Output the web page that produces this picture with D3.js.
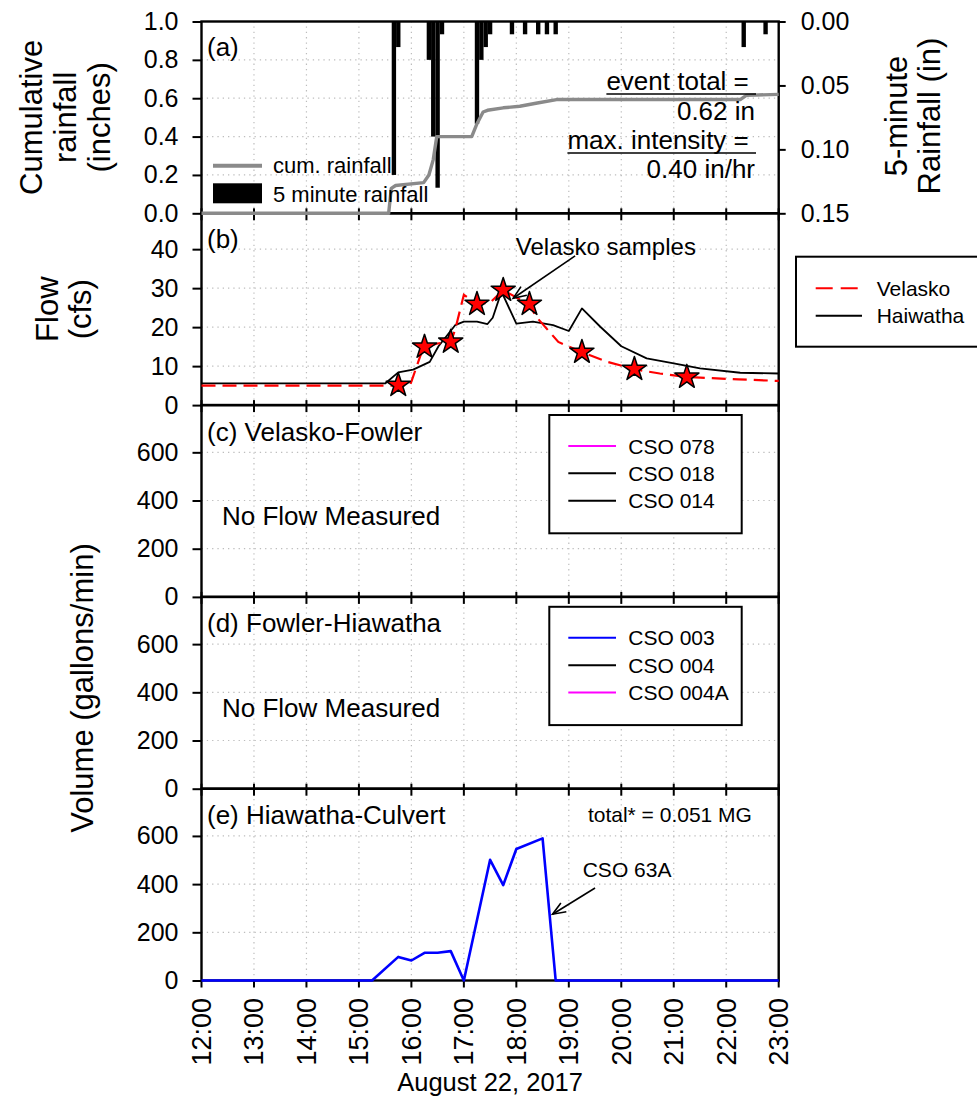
<!DOCTYPE html>
<html>
<head>
<meta charset="utf-8">
<script src="https://cdn.jsdelivr.net/npm/d3@7"></script>
<style>
  html, body { margin: 0; padding: 0; background: #fff; }
  svg { display: block; }
</style>
</head>
<body>
<svg id="chart" width="977" height="1099"></svg>
<script>
// ---------- data ----------
const hourLabels = ["12:00","13:00","14:00","15:00","16:00","17:00","18:00","19:00","20:00","21:00","22:00","23:00"];

// (a) 5-minute rainfall depths (in) and cumulative rainfall (in)
const rain5min = [
  ["15:40",0.12],["15:45",0.02],
  ["16:20",0.03],["16:25",0.09],["16:30",0.13],["16:35",0.01],
  ["17:15",0.08],["17:20",0.03],["17:25",0.02],["17:30",0.01],
  ["17:55",0.01],["18:10",0.01],["18:25",0.01],["18:35",0.01],["18:45",0.01],
  ["22:20",0.02],["22:45",0.01]
];
const cumRain = [
  ["12:00",0],["15:34",0],["15:37",0.13],["15:42",0.145],["16:14",0.16],["16:20",0.2],
  ["16:25",0.28],["16:29",0.40],["17:09",0.40],["17:15",0.467],["17:22",0.528],["17:27",0.537],
  ["17:45",0.55],["18:04",0.558],["18:24",0.575],["18:46",0.593],["22:16",0.593],["22:23",0.615],["23:00",0.62]
];

// (b) flow (cfs)
const velaskoFlow = [
  ["12:00",5.0],["15:58",5.0],["16:00",6.0],["16:10",12.5],["16:15",14.9],["16:30",15.8],["16:45",16.2],
  ["16:50",19.3],["17:00",28.3],["17:15",25.9],["17:30",26.3],["17:45",29.5],["18:15",25.7],["18:23",22.6],
  ["18:48",16.2],["19:15",13.6],["19:44",11.1],["20:15",9.2],["20:44",8.1],["21:15",7.2],["21:44",6.9],
  ["22:14",6.6],["23:00",6.2]
];
const haiwathaFlow = [
  ["12:00",5.55],["15:30",5.55],["15:45",8.4],["16:02",9.1],["16:21",11.1],["16:31",15.1],["16:50",20.5],
  ["17:00",21.4],["17:15",21.4],["17:27",20.8],["17:33",22.4],["17:43",29.1],["18:00",20.9],["18:19",21.4],
  ["18:42",20.5],["19:00",19.0],["19:15",24.8],["19:36",20.1],["20:00",15.1],["20:29",12.0],["21:00",10.7],
  ["21:30",9.4],["22:16",8.3],["23:00",8.1]
];
const velaskoSamples = [
  ["15:45",5.1],["16:15",14.9],["16:45",16.2],["17:15",25.9],["17:45",29.5],
  ["18:15",25.9],["19:15",13.6],["20:15",9.2],["21:15",7.2]
];

// (e) CSO 63A discharge (gallons/min)
const cso63A = [
  ["12:00",0],["15:15",0],["15:45",98],["16:00",83],["16:15",115],["16:30",115],["16:45",122],
  ["17:00",0],["17:30",501],["17:45",396],["18:00",546],["18:30",590],["18:45",0],["23:00",0]
];

const cumTicks = [0, 0.2, 0.4, 0.6, 0.8, 1.0];
const rainTicks = [0, 0.05, 0.10, 0.15];
const flowTicks = [0, 10, 20, 30, 40];
const volTicks = [0, 200, 400, 600];

// ---------- layout ----------
const FONT = '"Liberation Sans", Arial, Helvetica, sans-serif';
const plotL = 201.5, plotR = 778.7, plotT = 21.5, ph = 191.8;
const pTop = i => plotT + i * ph;
const toH = s => { const [h, m] = s.split(":").map(Number); return h + m / 60; };

const svg = d3.select("#chart").attr("font-family", FONT);

const x = d3.scaleLinear().domain([12, 23]).range([plotL, plotR]);
const yCum = d3.scaleLinear().domain([0, 1]).range([pTop(1), pTop(0)]);
const yRain = d3.scaleLinear().domain([0, 0.15]).range([pTop(0), pTop(1)]);
const yFlow = d3.scaleLinear().domain([0, 49.2]).range([pTop(2), pTop(1)]);
const yC = d3.scaleLinear().domain([0, 796]).range([pTop(3), pTop(2)]);
const yD = d3.scaleLinear().domain([0, 796]).range([pTop(4), pTop(3)]);
const yE = d3.scaleLinear().domain([0, 796]).range([pTop(5), pTop(4)]);

const hours = hourLabels.map(toH);

// ---------- dotted grid ----------
const gridG = svg.append("g").attr("stroke", "#bdbdbd").attr("stroke-width", 1.2).attr("stroke-dasharray", "1.3,4");
function grid(y, vals) {
  const [y0, y1] = y.range();
  gridG.append("g").selectAll("line").data(hours.slice(1, -1)).join("line")
    .attr("x1", d => x(d)).attr("x2", d => x(d)).attr("y1", y0).attr("y2", y1);
  gridG.append("g").selectAll("line").data(vals.filter(v => v > 0)).join("line")
    .attr("x1", plotL).attr("x2", plotR).attr("y1", d => y(d)).attr("y2", d => y(d));
}
grid(yCum, cumTicks.filter(v => v < 1));
grid(yFlow, flowTicks);
grid(yC, volTicks);
grid(yD, volTicks);
grid(yE, volTicks);

// ---------- panel frames ----------
for (let i = 0; i < 5; i++) {
  svg.append("rect").attr("x", plotL).attr("y", pTop(i)).attr("width", plotR - plotL).attr("height", ph)
    .attr("fill", "none").attr("stroke", "#000").attr("stroke-width", 2.4);
}

// hour ticks on every panel boundary
const tickG = svg.append("g").attr("stroke", "#000").attr("stroke-width", 2);
for (let i = 1; i <= 5; i++) {
  const yb = pTop(i);
  tickG.append("g").selectAll("line").data(hours).join("line")
    .attr("x1", d => x(d)).attr("x2", d => x(d))
    .attr("y1", i === 5 ? yb : yb - 5).attr("y2", yb + 7);
}

// ---------- y axes ----------
function leftAxis(y, vals, fmt) {
  const g = svg.append("g").attr("transform", `translate(${plotL},0)`)
    .call(d3.axisLeft(y).tickValues(vals).tickFormat(fmt).tickSize(9).tickPadding(14));
  g.select(".domain").remove();
  g.selectAll(".tick line").attr("stroke", "#000").attr("stroke-width", 2);
  g.selectAll(".tick text").attr("font-size", 25).attr("font-family", FONT).attr("fill", "#000");
}
leftAxis(yCum, cumTicks, d3.format(".1f"));
leftAxis(yFlow, flowTicks, d3.format("d"));
leftAxis(yC, volTicks, d3.format("d"));
leftAxis(yD, volTicks, d3.format("d"));
leftAxis(yE, volTicks, d3.format("d"));

const rAxis = svg.append("g").attr("transform", `translate(${plotR},0)`)
  .call(d3.axisRight(yRain).tickValues(rainTicks).tickFormat(d3.format(".2f")).tickSize(7).tickPadding(15));
rAxis.select(".domain").remove();
rAxis.selectAll(".tick line").attr("stroke", "#000").attr("stroke-width", 2);
rAxis.selectAll(".tick text").attr("font-size", 25).attr("font-family", FONT).attr("fill", "#000");

// x tick labels (rotated)
svg.append("g").selectAll("text").data(hourLabels).join("text")
  .attr("transform", d => `translate(${x(toH(d))},998) rotate(-90)`)
  .attr("text-anchor", "end").attr("dy", "0.35em").attr("font-size", 27).text(d => d);

svg.append("text").attr("x", (plotL + plotR) / 2).attr("y", 1091).attr("text-anchor", "middle")
  .attr("font-size", 25.5).text("August 22, 2017");

// axis titles
function title(lines, cx, cy, gap, size) {
  const t = svg.append("text").attr("transform", `translate(${cx},${cy}) rotate(-90)`)
    .attr("text-anchor", "middle").attr("font-size", size);
  lines.forEach((s, i) => t.append("tspan").attr("x", 0).attr("dy", i === 0 ? 0 : gap).text(s));
}
title(["Cumulative", "rainfall", "(inches)"], 42, (pTop(0) + pTop(1)) / 2, 34, 31);
title(["Flow", "(cfs)"], 58, (pTop(1) + pTop(2)) / 2, 33, 31);
title(["Volume (gallons/min)"], 92.5, 688, 0, 31);
title(["5-minute", "Rainfall (in)"], 907, 116, 33, 31);

// ---------- panel (a) ----------
const barW = x(toH("12:05")) - x(12);
svg.append("g").selectAll("rect").data(rain5min).join("rect")
  .attr("x", d => x(toH(d[0])) - barW / 2).attr("width", barW)
  .attr("y", yRain(0)).attr("height", d => yRain(d[1]) - yRain(0))
  .attr("fill", "#000");

const line = (y) => d3.line().x(d => x(toH(d[0]))).y(d => y(d[1]));
svg.append("path").datum(cumRain).attr("d", line(yCum))
  .attr("fill", "none").attr("stroke", "#8a8a8a").attr("stroke-width", 3.4).attr("stroke-linejoin", "round");

svg.append("text").attr("x", 207).attr("y", pTop(0) + 34.5).attr("font-size", 26).text("(a)");

// rainfall legend
svg.append("line").attr("x1", 213).attr("x2", 262).attr("y1", 165.7).attr("y2", 165.7)
  .attr("stroke", "#8a8a8a").attr("stroke-width", 4);
svg.append("text").attr("x", 273).attr("y", 172.7).attr("font-size", 22).text("cum. rainfall");
svg.append("rect").attr("x", 213).attr("y", 183.3).attr("width", 49).attr("height", 20).attr("fill", "#000");
svg.append("text").attr("x", 273).attr("y", 201.5).attr("font-size", 22).text("5 minute rainfall");

// event summary, underlined headings
function underlined(txt, xEnd, yBase) {
  const t = svg.append("text").attr("x", xEnd).attr("y", yBase).attr("text-anchor", "end")
    .attr("font-size", 26).style("white-space", "pre").text(txt + " ");
  const b = t.node().getBBox();
  svg.append("line").attr("x1", b.x).attr("x2", b.x + b.width).attr("y1", yBase + 4).attr("y2", yBase + 4)
    .attr("stroke", "#000").attr("stroke-width", 1.6);
}
underlined("event total =", 756, 90);
svg.append("text").attr("x", 755).attr("y", 120).attr("text-anchor", "end").attr("font-size", 26).text("0.62 in");
underlined("max. intensity =", 756, 149);
svg.append("text").attr("x", 755).attr("y", 178.3).attr("text-anchor", "end").attr("font-size", 26).text("0.40 in/hr");

// ---------- panel (b) ----------
svg.append("path").datum(haiwathaFlow).attr("d", line(yFlow))
  .attr("fill", "none").attr("stroke", "#000").attr("stroke-width", 1.8).attr("stroke-linejoin", "round");
svg.append("path").datum(velaskoFlow).attr("d", line(yFlow))
  .attr("fill", "none").attr("stroke", "#ff0000").attr("stroke-width", 2.2).attr("stroke-dasharray", "14,7");
svg.append("g").selectAll("path").data(velaskoSamples).join("path")
  .attr("transform", d => `translate(${x(toH(d[0]))},${yFlow(d[1])})`)
  .attr("d", d3.symbol().type(d3.symbolStar).size(180)())
  .attr("fill", "#ff0000").attr("stroke", "#000").attr("stroke-width", 1.5).attr("stroke-linejoin", "round");

svg.append("text").attr("x", 207).attr("y", pTop(1) + 35).attr("font-size", 26).text("(b)");

function arrow(x1, y1, x2, y2) {
  const g = svg.append("g").attr("stroke", "#000").attr("stroke-width", 1.6).attr("fill", "none");
  g.append("line").attr("x1", x1).attr("y1", y1).attr("x2", x2).attr("y2", y2);
  const a = Math.atan2(y1 - y2, x1 - x2), L = 14, s = 0.38;
  g.append("path").attr("d",
    `M${x2 + L * Math.cos(a + s)},${y2 + L * Math.sin(a + s)}L${x2},${y2}L${x2 + L * Math.cos(a - s)},${y2 + L * Math.sin(a - s)}`);
}
svg.append("text").attr("x", x(17.99)).attr("y", yFlow(38.5)).attr("font-size", 24).text("Velasko samples");
arrow(x(19.12), yFlow(38.3), x(17.94), yFlow(27.4));

// flow legend
svg.append("rect").attr("x", 796).attr("y", 256.7).attr("width", 210).attr("height", 90)
  .attr("fill", "#fff").attr("stroke", "#000").attr("stroke-width", 2);
svg.append("line").attr("x1", 815.7).attr("x2", 858).attr("y1", 288.3).attr("y2", 288.3)
  .attr("stroke", "#ff0000").attr("stroke-width", 2).attr("stroke-dasharray", "17,8");
svg.append("text").attr("x", 876.7).attr("y", 295.8).attr("font-size", 21).text("Velasko");
svg.append("line").attr("x1", 815.7).attr("x2", 862).attr("y1", 315.7).attr("y2", 315.7)
  .attr("stroke", "#000").attr("stroke-width", 2);
svg.append("text").attr("x", 876.7).attr("y", 323.2).attr("font-size", 21).text("Haiwatha");

// ---------- panels (c) and (d) ----------
function noFlowPanel(i, label, entries) {
  const t0 = pTop(i);
  svg.append("text").attr("x", 207).attr("y", t0 + 35.5).attr("font-size", 26).text(label);
  svg.append("text").attr("x", 222).attr("y", t0 + 120).attr("font-size", 26).text("No Flow Measured");
  svg.append("rect").attr("x", 549.3).attr("y", t0 + 9.9).attr("width", 192.4).attr("height", 118.3)
    .attr("fill", "#fff").attr("stroke", "#000").attr("stroke-width", 2);
  entries.forEach((e, k) => {
    const yy = t0 + 40.9 + k * 27.35;
    svg.append("line").attr("x1", 568.3).attr("x2", 616).attr("y1", yy).attr("y2", yy)
      .attr("stroke", e[1]).attr("stroke-width", 2);
    svg.append("text").attr("x", 628.3).attr("y", yy + 7.5).attr("font-size", 21).text(e[0]);
  });
}
noFlowPanel(2, "(c) Velasko-Fowler", [["CSO 078", "#ff00ff"], ["CSO 018", "#000"], ["CSO 014", "#000"]]);
noFlowPanel(3, "(d) Fowler-Hiawatha", [["CSO 003", "#0000ff"], ["CSO 004", "#000"], ["CSO 004A", "#ff00ff"]]);

// ---------- panel (e) ----------
svg.append("path").datum(cso63A).attr("d", line(yE))
  .attr("fill", "none").attr("stroke", "#0000ff").attr("stroke-width", 2.6).attr("stroke-linejoin", "round");
svg.append("text").attr("x", 207).attr("y", pTop(4) + 35.5).attr("font-size", 26).text("(e) Hiawatha-Culvert");
svg.append("text").attr("x", x(22.49)).attr("y", yE(658)).attr("text-anchor", "end").attr("font-size", 21)
  .text("total* = 0.051 MG");
svg.append("text").attr("x", x(19.265)).attr("y", yE(428)).attr("font-size", 21).text("CSO 63A");
arrow(x(19.5), yE(384), x(18.69), yE(275));
</script>
</body>
</html>
